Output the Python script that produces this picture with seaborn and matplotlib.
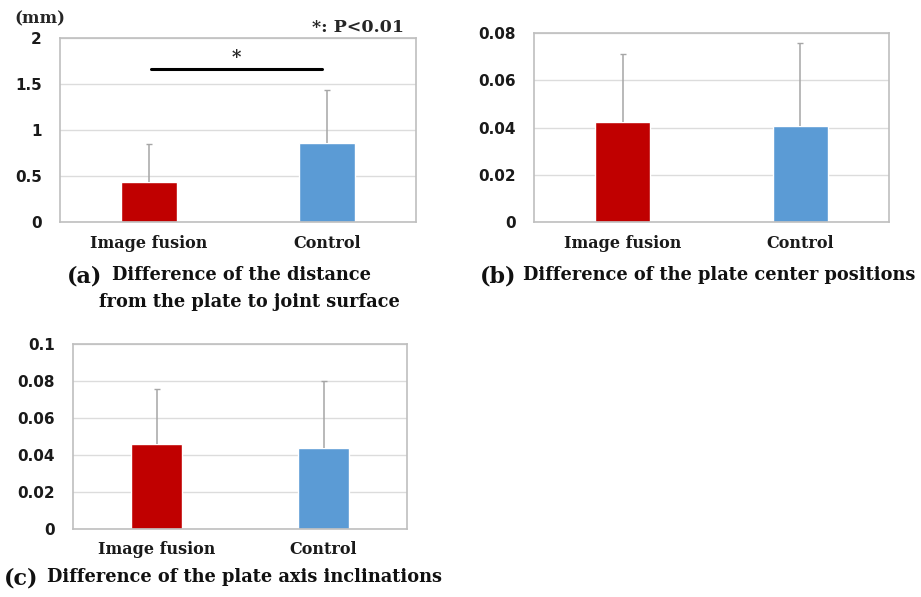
import matplotlib
matplotlib.use('Agg')
import matplotlib.pyplot as plt
import seaborn as sns
import pandas as pd

groups = ['Image fusion', 'Control']
colors = ['#C00000', '#5B9BD5']

# (a) distance plate -> joint surface (mm)
mean_a = [0.43, 0.86]
sd_a = [0.42, 0.58]
# (b) plate center positions
mean_b = [0.0423, 0.0405]
sd_b = [0.029, 0.0352]
# (c) plate axis inclinations
mean_c = [0.046, 0.044]
sd_c = [0.0295, 0.036]

yticks_a = [0, 0.5, 1, 1.5, 2]
yticks_b = [0, 0.02, 0.04, 0.06, 0.08]
yticks_c = [0, 0.02, 0.04, 0.06, 0.08, 0.1]
ytick_labels_a = ['0', '0.5', '1', '1.5', '2']
ytick_labels_b = ['0', '0.02', '0.04', '0.06', '0.08']
ytick_labels_c = ['0', '0.02', '0.04', '0.06', '0.08', '0.1']

sns.set_style('white')
W, H = 921, 597
fig = plt.figure(figsize=(9.21, 5.97), dpi=100)

SERIF = 'DejaVu Serif'

def px_axes(l, t, r, b):
    return fig.add_axes([l / W, 1 - b / H, (r - l) / W, (b - t) / H])

def draw(ax, means, sds, ticks, labels):
    df = pd.DataFrame({'group': groups, 'value': means})
    sns.barplot(data=df, x='group', y='value', hue='group', palette=colors,
                width=0.31, legend=False, ax=ax, saturation=1)
    xs = [p.get_x() + p.get_width() / 2 for p in ax.patches]
    eb = ax.errorbar(xs, means, yerr=[[0] * len(sds), sds], fmt='none',
                     ecolor='#a6a6a6', elinewidth=1.1, capsize=2.5, capthick=1)
    eb[1][0].set_visible(False)  # only the upper cap
    ax.set_xlim(-0.5, 1.5)
    ax.set_ylim(ticks[0], ticks[-1])
    ax.set_yticks(ticks)
    ax.set_yticklabels(labels, fontfamily='DejaVu Sans', fontweight='bold',
                       fontsize=11, color='#1a1a1a')
    ax.set_xticks([0, 1])
    ax.set_xticklabels(groups, fontfamily=SERIF, fontweight='bold',
                       fontsize=11.5, color='#1a1a1a')
    ax.tick_params(axis='y', length=0, pad=13)
    ax.tick_params(axis='x', length=0, pad=9)
    ax.set_xlabel('')
    ax.set_ylabel('')
    ax.yaxis.grid(True, color='#dcdcdc', linewidth=1)
    ax.set_axisbelow(True)
    for s in ax.spines.values():
        s.set_color('#bfbfbf')
        s.set_linewidth(1.2)

ax_a = px_axes(60, 38, 416, 222)
draw(ax_a, mean_a, sd_a, yticks_a, ytick_labels_a)
ax_b = px_axes(534, 33, 889, 222)
draw(ax_b, mean_b, sd_b, yticks_b, ytick_labels_b)
ax_c = px_axes(73, 344, 407, 529)
draw(ax_c, mean_c, sd_c, yticks_c, ytick_labels_c)

# significance bar on (a)
ax_a.plot([0.01, 0.97], [1.66, 1.66], color='black', linewidth=2.2)
ax_a.text(0.49, 1.69, '*', ha='center', va='bottom', fontsize=13,
          fontweight='bold', fontfamily=SERIF)
fig.text(404 / W, 1 - 27 / H, '*: P<0.01', ha='right', va='center',
         fontsize=12.5, fontweight='bold', fontfamily=SERIF)
fig.text(14 / W, 1 - 19 / H, '(mm)', ha='left', va='center',
         fontsize=12, fontweight='bold', fontfamily=SERIF)

cap = dict(fontweight='bold', fontfamily=SERIF, color='#111111')
fig.text(67 / W, 1 - 276 / H, '(a)', ha='left', va='center', fontsize=16, **cap)
fig.text(112 / W, 1 - 275 / H, 'Difference of the distance', ha='left', va='center', fontsize=12.8, **cap)
fig.text(99 / W, 1 - 302 / H, 'from the plate to joint surface', ha='left', va='center', fontsize=12.8, **cap)
fig.text(480 / W, 1 - 276 / H, '(b)', ha='left', va='center', fontsize=16, **cap)
fig.text(523 / W, 1 - 275 / H, 'Difference of the plate center positions', ha='left', va='center', fontsize=12.8, **cap)
fig.text(4 / W, 1 - 578 / H, '(c)', ha='left', va='center', fontsize=16, **cap)
fig.text(47 / W, 1 - 577 / H, 'Difference of the plate axis inclinations', ha='left', va='center', fontsize=12.8, **cap)

fig.savefig('out.png', dpi=100)
